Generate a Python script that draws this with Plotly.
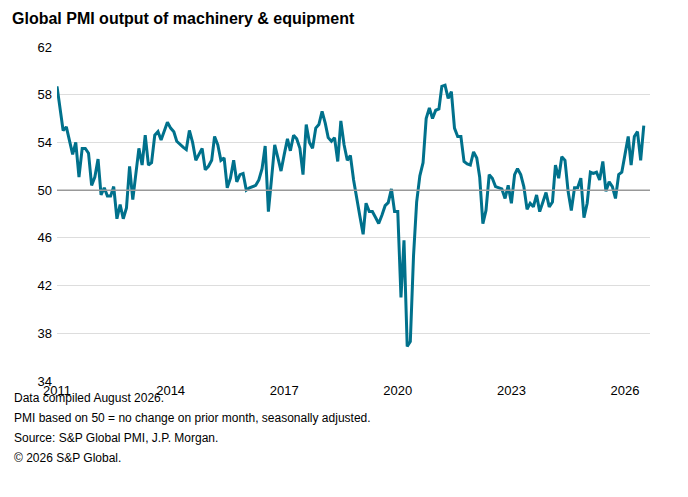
import plotly.graph_objects as go
import pandas as pd

values = [58.7,56.5,55.0,55.3,54.1,53.0,54.0,51.1,53.5,53.5,53.1,50.4,
51.1,52.6,49.6,50.2,49.5,49.5,50.3,47.6,48.8,47.6,48.5,52.0,
49.2,51.5,53.5,52.1,54.6,52.1,52.3,54.6,54.9,54.2,55.0,55.7,
55.2,54.9,54.1,53.8,53.6,53.4,55.0,54.0,52.5,53.0,53.5,51.7,
52.0,52.5,54.5,53.8,52.5,52.7,50.2,51.0,52.5,50.7,51.3,51.4,
50.0,50.2,50.3,50.4,50.85,51.8,53.7,48.2,51.0,53.8,52.7,51.6,
53.0,54.3,53.3,54.6,54.3,53.5,51.3,55.5,54.0,53.5,55.2,55.5,
56.6,55.6,54.4,54.1,54.4,52.4,55.8,53.8,52.5,52.9,50.85,49.2,
47.8,46.3,48.9,48.2,48.2,47.7,47.2,47.9,48.7,48.95,50.1,48.2,
48.2,41.0,45.8,36.9,37.3,44.5,49.0,51.2,52.3,56.0,56.9,56.0,
56.7,56.8,58.7,58.8,57.7,58.25,55.2,54.5,54.5,52.4,52.2,52.1,
53.2,52.7,51.1,47.2,48.3,51.3,51.0,50.3,50.2,50.1,49.3,50.4,
48.9,51.3,51.8,51.3,50.3,48.4,48.9,48.6,49.6,48.2,49.0,49.8,
48.6,49.0,52.1,51.0,52.8,52.5,49.9,48.3,50.2,50.2,51.0,47.7,
48.9,51.5,51.4,51.5,50.85,52.4,49.9,50.7,50.3,49.3,51.3,51.5,
53.0,54.5,52.1,54.5,54.9,52.5,55.4]
dates = pd.date_range("2011-01-01", periods=len(values), freq="MS")
tick_years = ["2011", "2014", "2017", "2020", "2023", "2026"]
y_ticks = [34, 38, 42, 46, 50, 54, 58, 62]
notes = ["Data compiled August 2026.",
         "PMI based on 50 = no change on prior month, seasonally adjusted.",
         "Source: S&P Global PMI, J.P. Morgan.",
         "© 2026 S&P Global."]

fig = go.Figure()
fig.add_trace(go.Scatter(x=dates, y=values, mode="lines",
                         line=dict(color="#00718C", width=3), hoverinfo="skip"))
fig.add_hline(y=50, line=dict(color="#999999", width=1.5))
fig.update_layout(
    width=688, height=497, plot_bgcolor="white", paper_bgcolor="white",
    margin=dict(l=49, r=46, t=39, b=124), showlegend=False,
    font=dict(family="Liberation Sans, Arial", size=13, color="black"),
    title=dict(text="<b>Global PMI output of machinery & equipment</b>", x=4/688, xanchor="left",
               xref="container", yref="container", y=1 - 10/497, yanchor="middle", font=dict(size=16)),
)
fig.update_xaxes(tickvals=[pd.Timestamp(y + "-01-01") for y in tick_years], ticktext=tick_years,
                 showgrid=False, showline=False, ticks="", range=[dates[0], dates[-1] + pd.Timedelta(days=60)])
fig.update_yaxes(tickvals=y_ticks, range=[34, 62], showgrid=True, gridcolor="#dddddd",
                 gridwidth=1, zeroline=False, ticks="", ticklabelstandoff=4)
for k, t in enumerate(notes):
    fig.add_annotation(text=t, xref="paper", yref="paper", x=-45/593, xanchor="left",
                       y=-(17 + k * 20) / 334, yanchor="middle", showarrow=False, font=dict(size=12))
fig.write_html("out.html")
